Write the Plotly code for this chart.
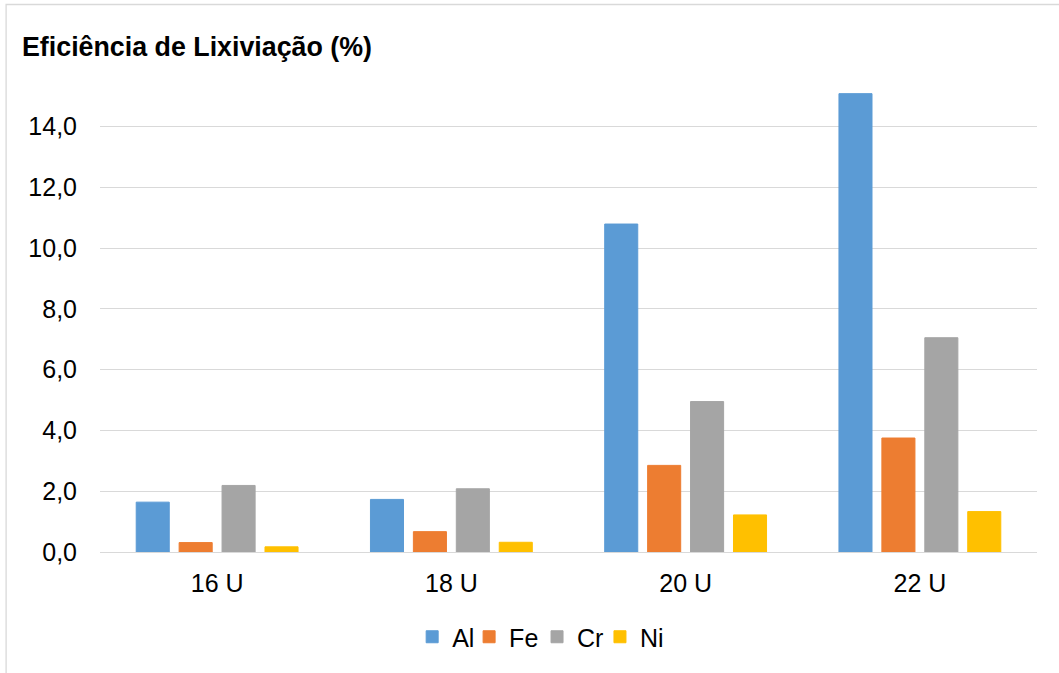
import plotly.graph_objects as go

# Lixiviation efficiency (%) per current condition
categories = ["16 U", "18 U", "20 U", "22 U"]
series_names = ["Al", "Fe", "Cr", "Ni"]
al_values = [1.64, 1.73, 10.79, 15.08]
fe_values = [0.31, 0.67, 2.85, 3.75]
cr_values = [2.19, 2.08, 4.95, 7.05]
ni_values = [0.17, 0.32, 1.22, 1.33]
y_tick_values = [0, 2, 4, 6, 8, 10, 12, 14]

colors = ["#5B9BD5", "#ED7D31", "#A5A5A5", "#FFC000"]
all_values = [al_values, fe_values, cr_values, ni_values]

W, H = 1059, 673
ML, MR, MT, MB = 99.5, 21.5, 90, 121
plot_w = W - ML - MR
plot_h = H - MT - MB
font_family = "Liberation Sans, Arial, sans-serif"


def px_to_paper_x(px):
    return (px - ML) / plot_w


def px_to_paper_y(py):
    return (H - MB - py) / plot_h


# one legend box per series so the entries can sit closer together
legend_ids = ["legend", "legend2", "legend3", "legend4"]
legend_symbol_px = [432, 489, 557, 620]

fig = go.Figure()
for name, vals, col, lid in zip(series_names, all_values, colors, legend_ids):
    fig.add_trace(go.Bar(
        x=categories, y=vals, name=name, legend=lid, showlegend=True,
        marker=dict(color=col, line=dict(width=1, color=col)),
    ))

legend_layout = {}
for lid, sx in zip(legend_ids, legend_symbol_px):
    legend_layout[lid] = dict(
        orientation="h", x=px_to_paper_x(sx - 20), xanchor="left",
        y=px_to_paper_y(637), yanchor="middle",
        font=dict(size=25), itemclick=False, bgcolor="rgba(0,0,0,0)",
    )

fig.update_layout(
    width=W, height=H,
    showlegend=True,
    margin=dict(l=ML, r=MR, t=MT, b=MB, autoexpand=False),
    paper_bgcolor="white", plot_bgcolor="white",
    separators=",.",
    barmode="group", bargap=0.267, bargroupgap=0.23,
    font=dict(family=font_family, size=25, color="#000000"),
    title=dict(
        text="<b>Eficiência de Lixiviação (%)</b>",
        xref="container", yref="container",
        x=22 / W, xanchor="left", y=1 - 47 / H, yanchor="middle",
        font=dict(family=font_family, size=26.8, color="#000000"),
    ),
    xaxis=dict(
        showgrid=False, showline=False, ticks="",
        ticklabelstandoff=14,
        tickfont=dict(size=25),
    ),
    yaxis=dict(
        range=[0, 15.2], tickvals=y_tick_values, tickformat=".1f",
        showgrid=True, gridcolor="#D9D9D9", gridwidth=1.3,
        zeroline=True, zerolinecolor="#D9D9D9", zerolinewidth=1.3,
        showline=False, ticks="", ticklabelstandoff=22,
        tickfont=dict(size=25),
    ),
    shapes=[dict(
        type="rect", xref="paper", yref="paper",
        x0=px_to_paper_x(5.5), x1=px_to_paper_x(1080),
        y0=px_to_paper_y(700), y1=px_to_paper_y(4.5),
        line=dict(color="#D9D9D9", width=1.3), fillcolor="rgba(0,0,0,0)",
        layer="below",
    )],
    **legend_layout,
)

fig.write_html("out.html")
